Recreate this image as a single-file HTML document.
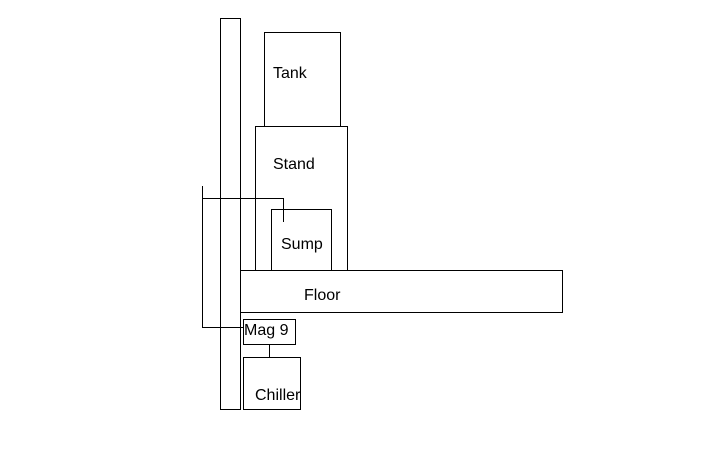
<!DOCTYPE html>
<html><head><style>html,body{margin:0;padding:0;background:#fff;width:720px;height:450px;overflow:hidden}</style></head>
<body>
<svg width="720" height="450" xmlns="http://www.w3.org/2000/svg" style="display:block">
<g fill="none" stroke="#000" stroke-width="1" shape-rendering="crispEdges">
<rect x="220.5" y="18.5" width="20" height="391"/>
<rect x="264.5" y="32.5" width="76" height="94"/>
<rect x="255.5" y="126.5" width="92" height="144"/>
<rect x="271.5" y="209.5" width="60" height="61"/>
<rect x="240.5" y="270.5" width="322" height="42"/>
<rect x="243.5" y="319.5" width="52" height="25"/>
<rect x="243.5" y="357.5" width="57" height="52"/>
<polyline points="202.5,186 202.5,327.5 243,327.5"/>
<polyline points="202.5,198.5 283.5,198.5 283.5,222"/>
<line x1="269.5" y1="344" x2="269.5" y2="357"/>
</g>
<g font-family="Liberation Sans, sans-serif" font-size="16" fill="#000">
<text x="273" y="78">Tank</text>
<text x="273" y="169">Stand</text>
<text x="281" y="249">Sump</text>
<text x="304" y="300">Floor</text>
<text x="244" y="335">Mag 9</text>
<text x="255" y="400">Chiller</text>
</g>
</svg>
</body></html>
